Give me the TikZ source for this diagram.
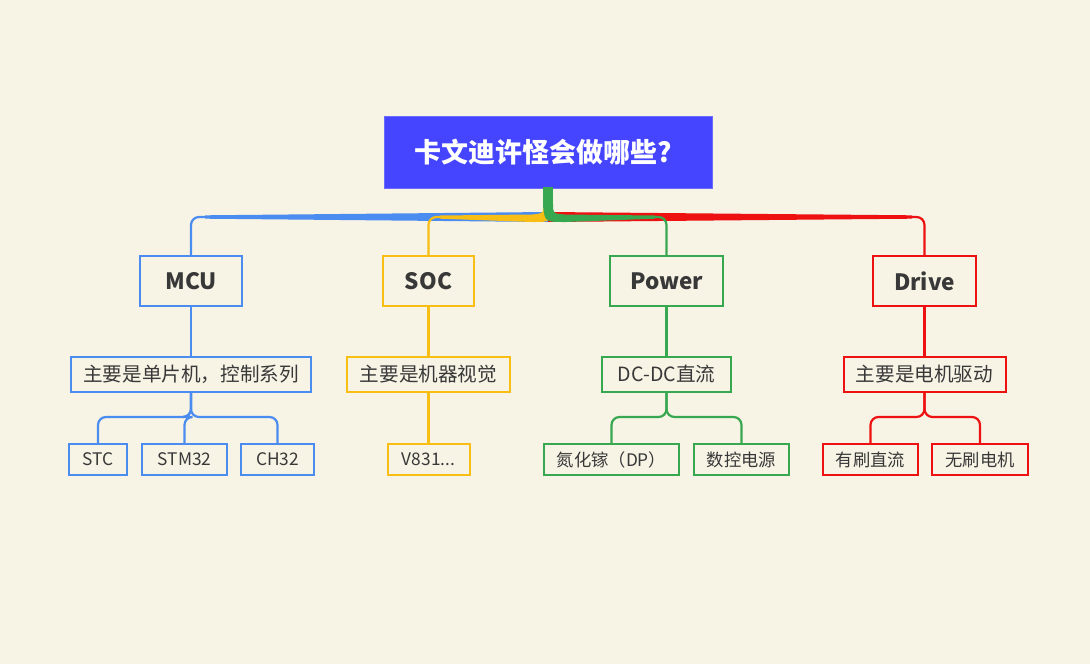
\documentclass[tikz,border=0pt]{standalone}
\usepackage{fontspec}
\setmainfont{Noto Sans CJK SC}
\usetikzlibrary{calc}
\definecolor{bgc}{HTML}{F7F3E5}
\definecolor{rootc}{HTML}{4545FF}
\definecolor{cb}{HTML}{4A8CF0}
\definecolor{cy}{HTML}{F8BE14}
\definecolor{cg}{HTML}{37A84F}
\definecolor{cr}{HTML}{EE1111}
\definecolor{txt}{HTML}{383838}
\tikzset{
  lvone/.style={draw, line width=2pt, rectangle, inner sep=0pt, minimum height=50pt, text=txt, font=\fontsize{22.5pt}{26pt}\selectfont\bfseries},
  lvtwo/.style={draw, line width=2pt, rectangle, inner sep=0pt, minimum height=35pt, text=txt, font=\fontsize{19.6pt}{22pt}\selectfont},
  lvthree/.style={draw, line width=2pt, rectangle, inner sep=0pt, minimum height=31pt, text=txt, font=\fontsize{17.3pt}{20pt}\selectfont},
  conn/.style={line width=2.2pt, rounded corners=8pt},
}
\begin{document}
\begin{tikzpicture}[x=1pt,y=-1pt]
\fill[bgc] (0,0) rectangle (1090,664);
\useasboundingbox (0,0) rectangle (1090,664);

% root
\node[rectangle, fill=rootc, draw=rootc!80!white, line width=0.8pt, minimum width=328pt, minimum height=72pt, inner sep=0pt, text=white, font=\fontsize{27pt}{31pt}\selectfont\bfseries] (root) at (548.5,152) {\hspace*{-10pt}卡文迪许怪会做哪些?};

% level 1
\node[lvone, draw=cb, minimum width=102pt] (mcu) at (191,281) {MCU};
\node[lvone, draw=cy, minimum width=91pt] (soc) at (428.5,281) {SOC};
\node[lvone, draw=cg, minimum width=113pt] (pow) at (666.5,281) {Power};
\node[lvone, draw=cr, minimum width=103pt] (drv) at (924.5,281) {Drive};

% level 2
\node[lvtwo, draw=cb, minimum width=240pt] (mcut) at (191,374.5) {主要是单片机，控制系列};
\node[lvtwo, draw=cy, minimum width=163pt] (soct) at (428.5,374.5) {主要是机器视觉};
\node[lvtwo, draw=cg, minimum width=129pt] (powt) at (666.5,374.5) {DC-DC直流};
\node[lvtwo, draw=cr, minimum width=162pt] (drvt) at (924.5,374.5) {主要是电机驱动};

% level 3
\node[lvthree, draw=cb, minimum width=58pt] (stc) at (98,459.5) {STC};
\node[lvthree, draw=cb, minimum width=85pt] (stm) at (184.5,459.5) {STM32};
\node[lvthree, draw=cb, minimum width=73pt] (ch) at (277.5,459.5) {CH32};
\node[lvthree, draw=cy, minimum width=82pt] (v8) at (428.5,459.5) {V831...};
\node[lvthree, draw=cg, minimum width=135pt] (gan) at (611.5,459.5) {氮化镓（DP）};
\node[lvthree, draw=cg, minimum width=95pt] (ncps) at (741.5,459.5) {数控电源};
\node[lvthree, draw=cr, minimum width=95pt] (brd) at (870.5,459.5) {有刷直流};
\node[lvthree, draw=cr, minimum width=96pt] (bld) at (980,459.5) {无刷电机};

% root branches
\coordinate (cB) at (205,217);
\coordinate (cR) at (912,217);
\coordinate (cY) at (440,217);
\coordinate (cG) at (655,217);
\coordinate (bus) at (0,417);

\fill[cb] (548,212) -- (205,215.3) -- (205,218.7) -- (548,222) -- cycle;
\draw[conn, cb] (cB) -| (mcu.north);
\fill[cr] (548,212) -- (912,215.3) -- (912,218.7) -- (548,222) -- cycle;
\draw[conn, cr] (cR) -| (drv.north);
\fill[cy] (543.5,204) .. controls (543.5,213.5) .. (532,214.5) -- (440,215.5) -- (440,218.7) -- (532,222) .. controls (551,222) .. (552,206) -- cycle;
\draw[conn, cy] (cY) -| (soc.north);
\fill[cg] (553,204) .. controls (553,213.5) .. (565,214.5) -- (655,215.5) -- (655,218.7) -- (565,222) .. controls (545,222) .. (543,206) -- cycle;
\fill[cg] (543,187) rectangle (553,208);
\draw[conn, cg] (cG) -| (pow.north);

% level1 -> level2
\draw[conn, cb] (mcu.south) -- (mcut.north);
\draw[conn, cy] (soc.south) -- (soct.north);
\draw[conn, cg] (pow.south) -- (powt.north);
\draw[conn, cr] (drv.south) -- (drvt.north);

% level2 -> level3
\foreach \c in {stc,stm,ch} \draw[conn, cb] (mcut.south) -- (mcut.south |- bus) -| (\c.north);
\draw[conn, cy] (soct.south) -- (v8.north);
\foreach \c in {gan,ncps} \draw[conn, cg] (powt.south) -- (powt.south |- bus) -| (\c.north);
\foreach \c in {brd,bld} \draw[conn, cr] (drvt.south) -- (drvt.south |- bus) -| (\c.north);
\end{tikzpicture}
\end{document}
